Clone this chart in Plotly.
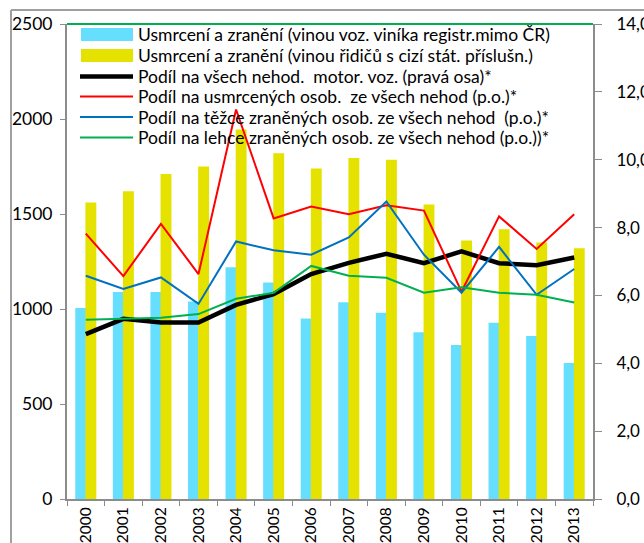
import plotly.graph_objects as go

years = ["2000", "2001", "2002", "2003", "2004", "2005", "2006",
         "2007", "2008", "2009", "2010", "2011", "2012", "2013"]

foreign_reg = [1005, 1090, 1090, 1040, 1220, 1140, 950, 1035, 980, 878, 810, 928, 858, 716]
foreign_drv = [1560, 1620, 1710, 1750, 1945, 1820, 1740, 1795, 1785, 1550, 1360, 1420, 1350, 1320]

share_all = [4.86, 5.31, 5.20, 5.20, 5.72, 6.04, 6.63, 6.96, 7.23, 6.95, 7.30, 6.95, 6.89, 7.12]
share_killed = [7.82, 6.57, 8.11, 6.63, 11.48, 8.27, 8.62, 8.39, 8.66, 8.50, 6.11, 8.33, 7.37, 8.39]
share_serious = [6.58, 6.19, 6.53, 5.75, 7.59, 7.33, 7.20, 7.71, 8.77, 7.20, 6.08, 7.43, 6.02, 6.78]
share_light = [5.28, 5.30, 5.34, 5.45, 5.90, 6.08, 6.87, 6.58, 6.52, 6.08, 6.24, 6.08, 6.02, 5.79]

names = [
    "Usmrcení a zranění (vinou voz. viníka registr.mimo ČR)",
    "Usmrcení a zranění (vinou řidičů s cizí stát. příslušn.)",
    "Podíl na všech nehod.  motor. voz. (pravá osa)*",
    "Podíl na usmrcených osob.  ze všech nehod (p.o.)*",
    "Podíl na těžce zraněných osob. ze všech nehod  (p.o.)*",
    "Podíl na lehce zraněných osob. ze všech nehod (p.o.))*",
]
colors = ["#66DFFF", "#E5E200", "#000000", "#FF0000", "#0070C0", "#00B050"]
line_widths = [None, None, 4.5, 2, 2, 2]

FONT = "Lato"
FS = 17.5
AX = "#8C8C8C"

fig = go.Figure()
fig.add_trace(go.Bar(x=years, y=foreign_reg, name=names[0], marker_color=colors[0],
                     marker_line_width=0, offset=-0.28, width=0.29, showlegend=False))
fig.add_trace(go.Bar(x=years, y=foreign_drv, name=names[1], marker_color=colors[1],
                     marker_line_width=0, offset=-0.01, width=0.29, showlegend=False))
for vals, i in [(share_all, 2), (share_killed, 3), (share_serious, 4), (share_light, 5)]:
    fig.add_trace(go.Scatter(x=years, y=vals, name=names[i], mode="lines", yaxis="y2",
                             line=dict(color=colors[i], width=line_widths[i]), showlegend=False))

# plot area in page px: x 67..593, y 24..499 (body margin removed in post_script)
W = 526.0
H = 475.0
def px(x):
    return (x - 67) / W
def py(y):
    return (499 - y) / H

shapes = []
annotations = []
# outer frame (partially visible)
shapes.append(dict(type="line", xref="paper", yref="paper", x0=px(11), x1=1.2, y0=py(10), y1=py(10),
                   line=dict(color="#A0A0A0", width=2), layer="above"))
shapes.append(dict(type="line", xref="paper", yref="paper", x0=px(11), x1=px(11), y0=py(10), y1=-0.2,
                   line=dict(color="#A0A0A0", width=2), layer="above"))
# green top border of plot area
shapes.append(dict(type="line", xref="paper", yref="paper", x0=0, x1=1, y0=1, y1=1,
                   line=dict(color="#00B050", width=2)))

# manual legend
row_y = [34.5, 55.5, 76.5, 96.5, 117, 137.5]
for i, nm in enumerate(names):
    yc = row_y[i]
    if i < 2:
        shapes.append(dict(type="rect", xref="paper", yref="paper", x0=px(81), x1=px(133),
                           y0=py(yc + 6.5), y1=py(yc - 6.5), fillcolor=colors[i], line=dict(width=0)))
    else:
        shapes.append(dict(type="line", xref="paper", yref="paper", x0=px(80), x1=px(133),
                           y0=py(yc), y1=py(yc), line=dict(color=colors[i], width=line_widths[i])))
    annotations.append(dict(xref="paper", yref="paper", x=px(136), y=py(yc), text=nm,
                            showarrow=False, xanchor="left", yanchor="middle",
                            font=dict(family=FONT, size=FS, color="#000000")))

fig.update_layout(
    width=644, height=543,
    margin=dict(l=67, r=51, t=24, b=44, autoexpand=False),
    paper_bgcolor="white", plot_bgcolor="white",
    barmode="overlay",
    separators=", ",
    font=dict(family=FONT, size=FS, color="#000000"),
    showlegend=False,
    xaxis=dict(type="category", range=[-0.5, 13.5], tickson="boundaries", ticks="outside",
               ticklen=5, tickcolor=AX, showline=True, linecolor=AX, linewidth=2,
               tickangle=-90, showgrid=False, tickfont=dict(size=15.5), ticklabelstandoff=0),
    yaxis=dict(range=[0, 2500], dtick=500, tickformat="d", ticks="outside", ticklen=5,
               tickcolor=AX, showline=True, linecolor=AX, linewidth=2, showgrid=False,
               zeroline=False, ticklabelstandoff=4),
    yaxis2=dict(range=[0, 14], dtick=2, tickformat=".1f", overlaying="y", side="right",
                ticks="outside", ticklen=7, tickcolor=AX, showline=True, linecolor=AX,
                linewidth=2, showgrid=False, zeroline=False, ticklabelstandoff=11,
                tickfont=dict(size=17)),
    shapes=shapes,
    annotations=annotations,
)

fig.write_html("out.html", config={"displayModeBar": False},
               post_script="document.body.style.margin='0';document.body.style.overflow='hidden';")
